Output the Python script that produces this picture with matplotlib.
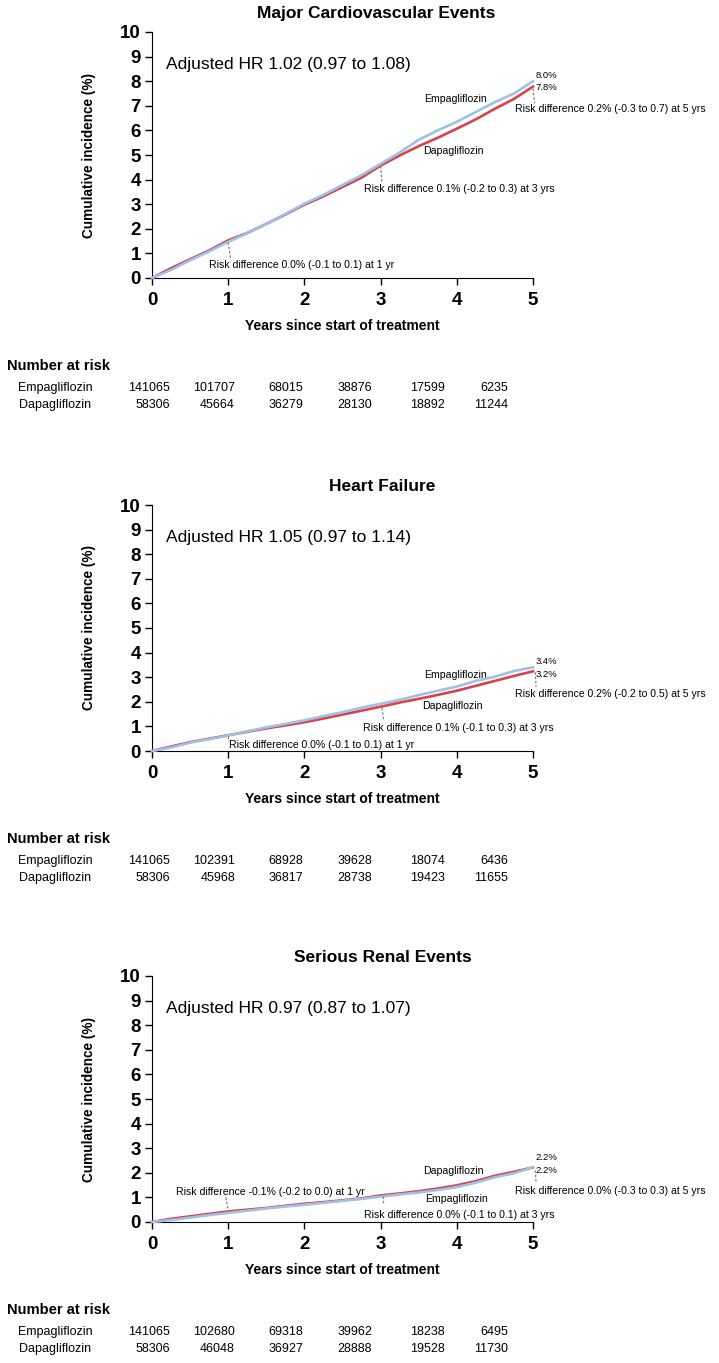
import numpy as np
import matplotlib
matplotlib.use("Agg")
import matplotlib.pyplot as plt

plt.rcParams['font.family'] = ['Liberation Sans', 'DejaVu Sans']

years = [0, 0.25, 0.5, 0.75, 1.0, 1.25, 1.5, 1.75, 2.0, 2.25, 2.5, 2.75,
         3.0, 3.25, 3.5, 3.75, 4.0, 4.25, 4.5, 4.75, 5.0]

# Major cardiovascular events
mace_empa = [0, 0.33, 0.72, 1.08, 1.47, 1.82, 2.2, 2.6, 3.02, 3.38, 3.78, 4.18,
             4.64, 5.1, 5.62, 6.0, 6.35, 6.75, 7.15, 7.5, 8.0]
mace_dapa = [0, 0.4, 0.76, 1.12, 1.53, 1.83, 2.2, 2.58, 2.98, 3.32, 3.7, 4.08,
             4.57, 4.98, 5.36, 5.7, 6.07, 6.45, 6.88, 7.28, 7.78]
# Heart failure
hf_empa = [0, 0.14, 0.34, 0.48, 0.63, 0.8, 0.96, 1.1, 1.25, 1.42, 1.58, 1.76,
           1.92, 2.08, 2.27, 2.45, 2.62, 2.85, 3.02, 3.25, 3.4]
hf_dapa = [0, 0.18, 0.36, 0.5, 0.64, 0.78, 0.92, 1.04, 1.17, 1.32, 1.48, 1.64,
           1.8, 1.97, 2.12, 2.28, 2.45, 2.65, 2.85, 3.05, 3.24]
# Serious renal events
renal_empa = [0, 0.08, 0.18, 0.28, 0.37, 0.46, 0.55, 0.63, 0.7, 0.78, 0.86, 0.94,
              1.03, 1.12, 1.2, 1.3, 1.42, 1.6, 1.82, 1.98, 2.23]
renal_dapa = [0, 0.13, 0.23, 0.33, 0.43, 0.5, 0.57, 0.66, 0.74, 0.81, 0.88, 0.96,
              1.08, 1.16, 1.25, 1.36, 1.49, 1.66, 1.88, 2.04, 2.22]

titles = ["Major Cardiovascular Events", "Heart Failure", "Serious Renal Events"]
hr_texts = ["Adjusted HR 1.02 (0.97 to 1.08)",
            "Adjusted HR 1.05 (0.97 to 1.14)",
            "Adjusted HR 0.97 (0.87 to 1.07)"]
end_labels = [("8.0%", "7.8%"), ("3.4%", "3.2%"), ("2.2%", "2.2%")]
rd1 = ["Risk difference 0.0% (-0.1 to 0.1) at 1 yr",
       "Risk difference 0.0% (-0.1 to 0.1) at 1 yr",
       "Risk difference -0.1% (-0.2 to 0.0) at 1 yr"]
rd3 = ["Risk difference 0.1% (-0.2 to 0.3) at 3 yrs",
       "Risk difference 0.1% (-0.1 to 0.3) at 3 yrs",
       "Risk difference 0.0% (-0.1 to 0.1) at 3 yrs"]
rd5 = ["Risk difference 0.2% (-0.3 to 0.7) at 5 yrs",
       "Risk difference 0.2% (-0.2 to 0.5) at 5 yrs",
       "Risk difference 0.0% (-0.3 to 0.3) at 5 yrs"]

risk_empa = [[141065, 101707, 68015, 38876, 17599, 6235],
             [141065, 102391, 68928, 39628, 18074, 6436],
             [141065, 102680, 69318, 39962, 18238, 6495]]
risk_dapa = [[58306, 45664, 36279, 28130, 18892, 11244],
             [58306, 45968, 36817, 28738, 19423, 11655],
             [58306, 46048, 36927, 28888, 19528, 11730]]

empa_curves = [mace_empa, hf_empa, renal_empa]
dapa_curves = [mace_dapa, hf_dapa, renal_dapa]

RED = '#d9414b'
BLUE = '#9cc2e8'
GREY = '#808080'

W, H = 719, 1363
fig = plt.figure(figsize=(W / 100, H / 100), dpi=100)

axes_bottom_px = [278, 751, 1222]
title_x = [0.588, 0.605, 0.605]

# annotation placement per panel (data coords)
ann = [
    dict(empa=(3.57, 7.26), dapa=(3.56, 5.16), rd1=(0.75, 0.51), rd3=(2.78, 3.61),
         rd5=(4.76, 6.89), e1=8.24, e2=7.74,
         l1=((1.0, 1.45), (1.03, 0.8)), l3=((3.0, 4.55), (3.02, 3.85)),
         l5=((5.0, 7.7), (5.02, 7.1))),
    dict(empa=(3.57, 3.09), dapa=(3.55, 1.81), rd1=(1.01, 0.23), rd3=(2.77, 0.94),
         rd5=(4.76, 2.31), e1=3.63, e2=3.12,
         l1=((1.0, 0.6), (1.0, 0.42)), l3=((3.02, 1.75), (3.04, 1.25)),
         l5=((5.03, 3.2), (5.04, 2.6))),
    dict(empa=(3.58, 0.95), dapa=(3.56, 2.07), rd1=(0.32, 1.22), rd3=(2.78, 0.3),
         rd5=(4.77, 1.28), e1=2.61, e2=2.09,
         l1=((0.97, 1.0), (1.0, 0.45)), l3=((3.03, 1.05), (3.03, 0.72)),
         l5=((5.03, 2.1), (5.04, 1.6))),
]

small = 7.6
for i in range(3):
    left = 152 / W
    width = 381 / W
    height = 246 / H
    bottom = 1 - axes_bottom_px[i] / H
    ax = fig.add_axes([left, bottom, width, height])

    ax.plot(years, dapa_curves[i], color=RED, lw=1.9, clip_on=False, zorder=3)
    ax.plot(years, empa_curves[i], color=BLUE, lw=1.9, clip_on=False, zorder=4)

    ax.set_xlim(0, 5)
    ax.set_ylim(0, 10)
    ax.set_xticks(range(0, 6))
    ax.set_yticks(range(0, 11))
    ax.spines['top'].set_visible(False)
    ax.spines['right'].set_visible(False)
    ax.tick_params(axis='both', length=5, width=1, labelsize=13.5)
    ax.tick_params(axis='x', pad=5)
    ax.tick_params(axis='y', pad=3)
    for lab in ax.get_xticklabels() + ax.get_yticklabels():
        lab.set_fontweight('bold')

    ax.set_ylabel("Cumulative incidence (%)", fontsize=9.8, fontweight='bold')
    ax.yaxis.set_label_coords(-0.147, 0.5)
    ax.set_xlabel("Years since start of treatment", fontsize=10, fontweight='bold')
    ax.xaxis.set_label_coords(0.5, -0.168)

    ax.text(title_x[i], 1.077, titles[i], transform=ax.transAxes, ha='center',
            va='center', fontsize=12.5, fontweight='bold')
    ax.text(0.19, 8.66, hr_texts[i], ha='left', va='center', fontsize=12.5)

    a = ann[i]
    ax.text(*a['empa'], "Empagliflozin", fontsize=small, va='center', ha='left')
    ax.text(*a['dapa'], "Dapagliflozin", fontsize=small, va='center', ha='left')
    ax.text(*a['rd1'], rd1[i], fontsize=small, va='center', ha='left')
    ax.text(*a['rd3'], rd3[i], fontsize=small, va='center', ha='left')
    ax.text(*a['rd5'], rd5[i], fontsize=small, va='center', ha='left', clip_on=False)
    ax.text(5.03, a['e1'], end_labels[i][0], fontsize=6.8, va='center', ha='left')
    ax.text(5.03, a['e2'], end_labels[i][1], fontsize=6.8, va='center', ha='left')
    for key in ['l1', 'l3', 'l5']:
        (x0, y0), (x1, y1) = a[key]
        ax.plot([x0, x1], [y0, y1], color=GREY, lw=0.9, ls=(0, (2, 1.5)),
                clip_on=False, zorder=5)

    # number at risk table
    yb = axes_bottom_px[i]
    fig.text(7 / W, 1 - (yb + 88) / H, "Number at risk", fontsize=10.6,
             fontweight='bold', va='center', ha='left')
    fig.text(18 / W, 1 - (yb + 110) / H, "Empagliflozin", fontsize=9,
             va='center', ha='left')
    fig.text(19 / W, 1 - (yb + 127) / H, "Dapagliflozin", fontsize=9,
             va='center', ha='left')
    col_right = [170, 235, 303, 372, 445, 508]
    for j, xr in enumerate(col_right):
        fig.text(xr / W, 1 - (yb + 110) / H, str(risk_empa[i][j]), fontsize=9,
                 va='center', ha='right')
        fig.text(xr / W, 1 - (yb + 127) / H, str(risk_dapa[i][j]), fontsize=9,
                 va='center', ha='right')

fig.savefig("out.png", dpi=100)
